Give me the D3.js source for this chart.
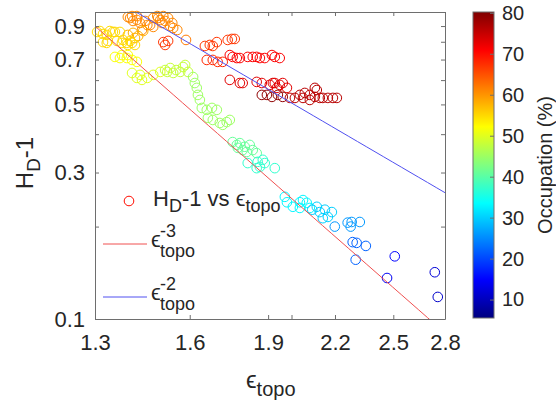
<!DOCTYPE html>
<html>
<head>
<meta charset="utf-8">
<script src="https://cdn.jsdelivr.net/npm/d3@7"></script>
<style>
  body { margin: 0; background: #fff; }
  text { font-family: "Liberation Sans", Arial, sans-serif; fill: #262626; }
</style>
</head>
<body>
<svg id="chart" width="556" height="407"></svg>
<script>
// hodnoty
const epsTopo = [
  1.397,1.410,1.404,1.413,1.425,1.425,1.435,1.441,1.451,1.458,1.467,1.477,1.477,1.490,1.493,1.500,1.506,1.510,1.516,1.526,1.533,1.540,1.543,1.557,
  1.397,1.413,1.419,1.429,1.445,
  1.510,1.526,1.516,1.654,1.672,1.683,1.698,1.739,1.755,1.766,1.587,1.661,1.683,1.701,1.720,
  1.747,1.758,1.774,1.786,1.817,1.837,1.853,1.866,1.886,1.916,1.928,1.949,
  1.747,1.786,1.797,1.853,1.874,1.907,1.920,1.928,1.949,1.962,1.937,1.980,
  1.874,1.895,1.916,1.941,1.962,
  1.993,2.015,2.037,2.059,2.082,2.105,2.114,2.105,2.128,2.142,2.166,2.190,2.209,2.051,2.082,
  1.306,1.314,1.323,1.334,1.343,1.352,1.358,1.373,1.323,1.334,1.337,1.364,1.379,1.382,1.394,1.404,1.410,1.397,1.419,
  1.358,1.373,1.394,1.410,1.425,1.379,1.397,
  1.410,1.425,1.441,1.458,1.477,1.500,1.435,
  1.523,1.543,1.567,1.577,1.584,1.594,1.516,1.533,1.553,
  1.612,1.618,1.625,1.629,1.636,1.643,1.661,1.680,1.698,1.665,1.683,1.709,1.720,1.735,1.747,
  1.758,1.774,1.786,1.805,1.825,1.837,1.813,1.853,1.778,1.797,
  1.817,1.857,1.866,1.878,1.886,1.928,1.853,
  1.971,1.980,2.006,2.037,2.051,2.068,2.037,2.082,
  2.114,2.128,2.152,2.166,2.142,2.185,2.093,
  2.199,2.262,2.282,2.323,2.277,
  2.287,2.307,2.354,2.302,
  2.508,2.466,2.738,2.756
]
const hdMinus1 = [
  0.963,0.970,0.956,0.935,0.970,0.942,0.921,0.874,0.935,0.907,0.907,0.956,0.894,0.970,0.956,0.942,0.921,0.970,0.935,0.956,0.900,0.921,0.887,0.874,
  0.842,0.855,0.823,0.835,0.867,
  0.798,0.805,0.781,0.775,0.781,0.775,0.798,0.811,0.817,0.817,0.811,0.698,0.698,0.688,0.688,
  0.724,0.714,0.708,0.708,0.714,0.714,0.714,0.708,0.708,0.724,0.714,0.708,
  0.601,0.587,0.587,0.592,0.587,0.579,0.587,0.587,0.579,0.587,0.566,0.566,
  0.537,0.537,0.529,0.537,0.529,
  0.525,0.525,0.537,0.545,0.537,0.529,0.557,0.566,0.525,0.525,0.525,0.525,0.525,0.525,0.517,
  0.861,0.867,0.848,0.842,0.867,0.861,0.861,0.861,0.798,0.793,0.805,0.805,0.793,0.811,0.793,0.805,0.793,0.781,0.781,
  0.714,0.708,0.708,0.698,0.688,0.724,0.724,
  0.633,0.610,0.601,0.610,0.624,0.638,0.624,
  0.638,0.633,0.638,0.662,0.672,0.638,0.647,0.657,0.647,
  0.614,0.587,0.566,0.537,0.517,0.487,0.480,0.487,0.480,0.452,0.445,0.435,0.429,0.438,0.445,
  0.377,0.369,0.374,0.364,0.369,0.355,0.350,0.347,0.361,0.355,
  0.322,0.325,0.313,0.330,0.322,0.310,0.310,
  0.250,0.240,0.232,0.240,0.244,0.239,0.230,0.230,
  0.232,0.223,0.227,0.215,0.213,0.223,0.227,
  0.200,0.206,0.207,0.207,0.200,
  0.178,0.177,0.173,0.156,
  0.160,0.136,0.142,0.118
]
const occupation = [
  61,61,61,61,61,61,61,61,61,61,61,61,61,61,61,61,61,61,61,61,61,61,61,61,
  58,58,58,58,58,
  67,67,67,67,67,67,67,67,67,67,62,68,68,68,68,
  71,71,71,71,71,71,71,71,71,71,71,71,
  73,73,73,73,73,73,73,73,73,73,73,73,
  79,79,79,79,79,
  76,76,76,76,76,76,76,76,76,76,76,76,76,76,76,
  55,55,55,55,55,55,55,55,55,55,55,55,55,55,55,55,55,55,55,
  52,52,52,52,52,52,52,
  50,50,50,50,50,50,50,
  48,48,48,48,48,48,48,48,48,
  45,45,45,45,45,45,45,45,45,45,45,45,45,45,45,
  41,41,41,41,41,41,41,41,41,41,
  37,37,37,37,37,37,37,
  33,33,33,33,33,33,33,33,
  30,30,30,30,30,30,30,
  26,26,26,26,26,
  22,22,22,22,
  15,14,12,11
]

const xTicks = [1.3, 1.6, 1.9, 2.0, 2.2, 2.5, 2.8]
const xLabels = [1.3, 1.6, 1.9, 2.2, 2.5, 2.8]
const yTicks = [0.1, 0.2, 0.3, 0.4, 0.5, 0.6, 0.7, 0.8, 0.9]
const yLabels = [0.1, 0.3, 0.5, 0.7, 0.9]
const cTicks = [10, 20, 30, 40, 50, 60, 70, 80]
const occRange = [5.5, 80.2]
// prefaktory přímek eps^-3 a eps^-2
const fit3 = 1.977
const fit2 = 2.022

var svg = d3.select("#chart")
var plotL = 95, plotT = 12, plotW = 350, plotH = 307

var x = d3.scaleLog().domain([1.3, 2.8]).range([plotL, plotL + plotW])
var y = d3.scaleLog().domain([0.1, 1]).range([plotT + plotH, plotT])
var c = d3.scaleLinear().domain(occRange).range([0, 1]).clamp(true)

function jet(t) {
  var cl = v => Math.max(0, Math.min(1, v))
  return d3.rgb(cl(1.5 - Math.abs(4 * t - 3)) * 255, cl(1.5 - Math.abs(4 * t - 2)) * 255, cl(1.5 - Math.abs(4 * t - 1)) * 255).toString()
}

svg.append("clipPath").attr("id", "clip")
  .append("rect").attr("x", plotL).attr("y", plotT).attr("width", plotW).attr("height", plotH)

// body
var pts = epsTopo.map((e, i) => ({e: e, hd: hdMinus1[i], o: occupation[i]}))
svg.append("g").selectAll("circle").data(pts).enter().append("circle")
  .attr("cx", d => x(d.e))
  .attr("cy", d => y(d.hd))
  .attr("r", 4.8)
  .style("fill", "none")
  .style("stroke", d => jet(c(d.o)))
  .style("stroke-width", 1)

// mocninné přímky
var xs = d3.range(0, 41).map(i => 1.3 * Math.pow(2.8 / 1.3, i / 40))
var line = d3.line().x(d => x(d[0])).y(d => y(d[1]))
svg.append("path").attr("clip-path", "url(#clip)")
  .attr("d", line(xs.map(v => [v, fit3 * Math.pow(v, -3)])))
  .style("fill", "none").style("stroke", "#f05050").style("stroke-width", 1)
svg.append("path").attr("clip-path", "url(#clip)")
  .attr("d", line(xs.map(v => [v, fit2 * Math.pow(v, -2)])))
  .style("fill", "none").style("stroke", "#5050f0").style("stroke-width", 1)

// osy
var isLab = (arr, v) => arr.some(l => Math.abs(l - v) < 1e-9)
svg.append("g").attr("transform", "translate(0," + (plotT + plotH) + ")")
  .call(d3.axisBottom(x).tickValues(xTicks).tickSizeInner(-4).tickSizeOuter(0).tickPadding(15)
    .tickFormat(v => isLab(xLabels, v) ? d3.format(".1f")(v) : ""))
svg.append("g").attr("transform", "translate(0," + plotT + ")")
  .call(d3.axisTop(x).tickValues(xTicks).tickSizeInner(-4).tickSizeOuter(0).tickFormat(""))
svg.append("g").attr("transform", "translate(" + plotL + ",0)")
  .call(d3.axisLeft(y).tickValues(yTicks).tickSizeInner(-4).tickSizeOuter(0).tickPadding(10)
    .tickFormat(v => isLab(yLabels, v) ? d3.format(".1f")(v) : ""))
svg.append("g").attr("transform", "translate(" + (plotL + plotW) + ",0)")
  .call(d3.axisRight(y).tickValues(yTicks).tickSizeInner(-4).tickSizeOuter(0).tickFormat(""))

svg.selectAll(".domain").style("stroke", "#6e6e6e")
svg.selectAll(".tick line").style("stroke", "#6e6e6e")
svg.selectAll(".tick text").style("font-size", "22px").style("fill", "#262626")
  .style("font-family", "'Liberation Sans', Arial, sans-serif")

// popisky os
var xl = svg.append("text").attr("x", 246).attr("y", 388).style("font-size", "24px")
xl.append("tspan").text("ϵ")
xl.append("tspan").attr("dy", 8).style("font-size", "20px").text("topo")

var yl = svg.append("text").attr("transform", "translate(33,163) rotate(-90)")
  .attr("text-anchor", "middle").style("font-size", "24px")
yl.append("tspan").text("H")
yl.append("tspan").attr("dy", 7).style("font-size", "19px").text("D")
yl.append("tspan").attr("dy", -7).text("-1")

// legenda
svg.append("circle").attr("cx", 129).attr("cy", 201).attr("r", 4.8)
  .style("fill", "none").style("stroke", jet(c(70))).style("stroke-width", 1)
var lt = svg.append("text").attr("x", 153).attr("y", 206).style("font-size", "22px")
lt.append("tspan").text("H")
lt.append("tspan").attr("dy", 6).style("font-size", "18px").text("D")
lt.append("tspan").attr("dy", -6).text("-1 vs ϵ")
lt.append("tspan").attr("dy", 6).style("font-size", "18px").text("topo")

var legLines = [{col: "#f05050", p: "-3", y: 244}, {col: "#5050f0", p: "-2", y: 297}]
legLines.forEach(function(d) {
  svg.append("line").attr("x1", 103).attr("x2", 147).attr("y1", d.y).attr("y2", d.y)
    .style("stroke", d.col).style("stroke-width", 1)
  svg.append("text").attr("x", 151).attr("y", d.y + 3).style("font-size", "22px").text("ϵ")
  svg.append("text").attr("x", 160).attr("y", d.y - 7).style("font-size", "18px").text(d.p)
  svg.append("text").attr("x", 160).attr("y", d.y + 13).style("font-size", "18px").text("topo")
})

// barevná škála
var cbX = 473, cbW = 21, cbTop = 12, cbH = 306
var cy = d3.scaleLinear().domain(occRange).range([cbTop + cbH, cbTop])
var grad = svg.append("defs").append("linearGradient").attr("id", "jetgrad")
  .attr("x1", 0).attr("y1", 1).attr("x2", 0).attr("y2", 0)
d3.range(0, 65).forEach(i => grad.append("stop").attr("offset", i / 64).attr("stop-color", jet(i / 64)))
svg.append("rect").attr("x", cbX).attr("y", cbTop).attr("width", cbW).attr("height", cbH)
  .style("fill", "url(#jetgrad)").style("stroke", "#6e6e6e").style("stroke-width", 1)
var gc = svg.append("g").attr("transform", "translate(" + (cbX + cbW) + ",0)")
  .call(d3.axisRight(cy).tickValues(cTicks).tickSizeInner(-4).tickSizeOuter(0).tickPadding(8))
gc.select(".domain").remove()
gc.selectAll(".tick line").style("stroke", "#6e6e6e")
gc.selectAll(".tick text").style("font-size", "20px").style("fill", "#262626")
  .style("font-family", "'Liberation Sans', Arial, sans-serif")

svg.append("text").attr("transform", "translate(552,165) rotate(-90)")
  .attr("text-anchor", "middle").style("font-size", "20px").text("Occupation (%)")
</script>
</body>
</html>
